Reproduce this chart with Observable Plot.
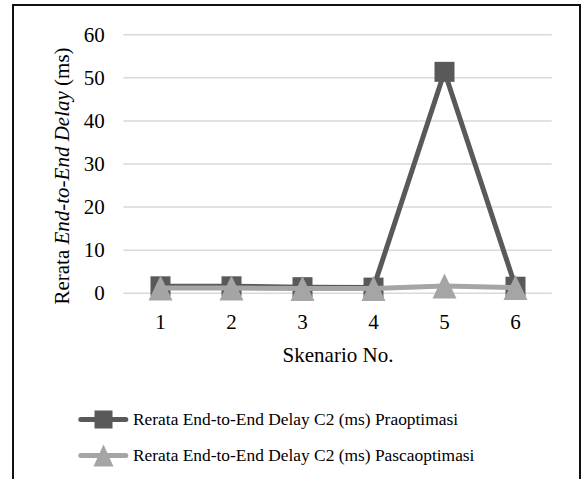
<!DOCTYPE html>
<html>
<head>
<meta charset="utf-8">
<script src="https://cdn.jsdelivr.net/npm/d3@7"></script>
<script src="https://cdn.jsdelivr.net/npm/@observablehq/plot@0.6"></script>
<style>
  html, body { margin: 0; padding: 0; background: #fff; }
  #wrap { position: relative; width: 581px; height: 479px; overflow: hidden; background: #fff; }
  #wrap svg, #wrap text, #wrap tspan { font-family: "Liberation Serif", "Times New Roman", Times, serif !important; }
  #frame { position: absolute; left: 12px; top: 4px; width: 569px; height: 520px;
           border: 2px solid #111; box-sizing: border-box; pointer-events: none; }
  #chart { position: absolute; left: 0; top: 0; }
  #legend { position: absolute; left: 0; top: 380px; }
</style>
</head>
<body>
<div id="wrap">
  <div id="chart"></div>
  <div id="legend"></div>
  <div id="frame"></div>
</div>
<script>
// Scenario numbers on the x axis
const scenarios = [1, 2, 3, 4, 5, 6];
// Average end-to-end delay of C2 (ms), before and after optimisation
const praoptimasi = [1.6, 1.6, 1.4, 1.3, 51.4, 1.5];
const pascaoptimasi = [1.2, 1.2, 1.1, 1.1, 1.7, 1.3];
// Value axis ticks
const yTicks = [0, 10, 20, 30, 40, 50, 60];
// Series names and colours
const seriesNames = [
  "Rerata End-to-End Delay C2 (ms) Praoptimasi",
  "Rerata End-to-End Delay C2 (ms) Pascaoptimasi"
];
const seriesColors = ["#595959", "#a5a5a5"];
const xTitle = "Skenario No.";
const yTitle = "Rerata End-to-End Delay (ms)";

// Long-format table built from the arrays above
const rows = [
  ...scenarios.map((s, i) => ({scenario: s, value: praoptimasi[i], series: seriesNames[0]})),
  ...scenarios.map((s, i) => ({scenario: s, value: pascaoptimasi[i], series: seriesNames[1]}))
];
const pra = rows.filter(d => d.series === seriesNames[0]);
const pasca = rows.filter(d => d.series === seriesNames[1]);

// Box-centred marker shapes
const squareMarker = {draw(ctx) { ctx.rect(-10, -10, 20, 20); }};
const triangleMarker = {draw(ctx) { ctx.moveTo(0, -12.5); ctx.lineTo(12, 12.5); ctx.lineTo(-12, 12.5); ctx.closePath(); }};

const W = 581, H = 380;
const chart = Plot.plot({
  width: W,
  height: H,
  marginLeft: 123.3,
  marginRight: 29.3,
  marginTop: 34.3,
  marginBottom: H - 292.7,
  style: {fontSize: "21px", color: "#000", background: "transparent", overflow: "visible"},
  x: {type: "point", domain: scenarios, padding: 0.5},
  y: {domain: [0, 60]},
  marks: [
    Plot.gridY(yTicks, {stroke: "#d9d9d9", strokeOpacity: 1, strokeWidth: 1.5}),
    Plot.axisY(yTicks, {tickSize: 0, tickPadding: 19, label: null, fontSize: 21}),
    Plot.axisX(scenarios, {tickSize: 0, tickPadding: 21, label: null, fontSize: 21}),
    Plot.text([xTitle], {frameAnchor: "bottom", dy: 69, lineAnchor: "bottom", fontSize: 21, fill: "#000"}),
    Plot.text([yTitle], {frameAnchor: "left", textAnchor: "middle", dx: -62, dy: 12, rotate: -90, fontSize: 21, fill: "#000"}),
    // Praoptimasi series: line then markers
    Plot.line(pra, {x: "scenario", y: "value", stroke: seriesColors[0], strokeWidth: 5, strokeLinejoin: "round", strokeLinecap: "round"}),
    Plot.dot(pra, {x: "scenario", y: "value", symbol: squareMarker, r: 10, fill: seriesColors[0], stroke: "none"}),
    // Pascaoptimasi series drawn on top
    Plot.line(pasca, {x: "scenario", y: "value", stroke: seriesColors[1], strokeWidth: 5, strokeLinejoin: "round", strokeLinecap: "round"}),
    Plot.dot(pasca, {x: "scenario", y: "value", symbol: triangleMarker, r: 10, fill: seriesColors[1], stroke: "none"})
  ]
});
document.getElementById("chart").appendChild(chart);

// Italicise the middle part of the value-axis title
d3.select(chart).selectAll("text").each(function () {
  if (this.textContent === yTitle) {
    const t = d3.select(this);
    t.text(null);
    t.append("tspan").text("Rerata ");
    t.append("tspan").attr("font-style", "italic").text("End-to-End Delay");
    t.append("tspan").text(" (ms)");
  }
});

// Legend below the plot
const lg = d3.select("#legend").append("svg").attr("width", W).attr("height", 99);
const rowsY = [39.5, 75.5];
seriesNames.forEach((name, i) => {
  const g = lg.append("g").attr("transform", `translate(0,${rowsY[i]})`);
  g.append("line").attr("x1", 80.8).attr("x2", 125.8).attr("y1", 0).attr("y2", 0)
    .attr("stroke", seriesColors[i]).attr("stroke-width", 5).attr("stroke-linecap", "round");
  if (i === 0) {
    g.append("rect").attr("x", 103.5 - 9).attr("y", -9).attr("width", 18).attr("height", 18).attr("fill", seriesColors[i]);
  } else {
    g.append("path").attr("d", "M103.5,-11L113.5,11L93.5,11Z").attr("fill", seriesColors[i]);
  }
  g.append("text").attr("x", 133).attr("y", 5.8).attr("font-size", 17.4).attr("fill", "#000").text(name);
});
</script>
</body>
</html>
